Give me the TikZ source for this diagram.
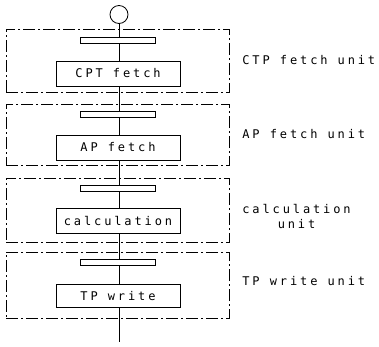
\documentclass[tikz,border=0pt]{standalone}
\usepackage{fontspec}
\newfontfamily\dotfont[LetterSpace=24]{DejaVu Sans Mono}
\begin{document}
\begin{tikzpicture}[x=1pt,y=-1pt,line width=0.8pt,
  font=\dotfont\fontsize{12}{14}\selectfont,
  unitbox/.style={draw,dash pattern=on 12pt off 3pt on 2pt off 3pt,
    minimum width=223pt,inner sep=0pt},
  regbar/.style={draw,minimum width=75pt,minimum height=6pt,inner sep=0pt},
  stagebox/.style={draw,minimum width=124pt,minimum height=25pt,inner sep=0pt},
  unitlabel/.style={anchor=west,inner sep=0pt}]
\useasboundingbox (0,0) rectangle (379,346);

% unit frames
\node[unitbox,minimum height=63pt] (u1) at (117.5,60.5) {};
\node[unitbox,minimum height=61pt] (u2) at (117.5,134.5) {};
\node[unitbox,minimum height=64pt] (u3) at (117.5,210) {};
\node[unitbox,minimum height=66pt] (u4) at (117.5,285) {};

% start symbol
\node[draw,circle,minimum size=18pt,inner sep=0pt] (start) at (119,14.5) {};

% register bars
\node[regbar] (r1) at (118,40) {};
\node[regbar] (r2) at (118,114) {};
\node[regbar] (r3) at (118,188) {};
\node[regbar] (r4) at (118,262) {};

% stage boxes
\node[stagebox] (s1) at (118,73.5) {CPT fetch};
\node[stagebox] (s2) at (118,147.5) {AP fetch};
\node[stagebox] (s3) at (118,221) {calculation};
\node[stagebox,minimum height=23pt] (s4) at (118,296) {TP write};

\coordinate (end) at (119,342);

% data path
\draw (start.south) -- (start.south |- r1.north);
\draw (start.south |- r1.south) -- (start.south |- s1.north);
\draw (start.south |- s1.south) -- (start.south |- r2.north);
\draw (start.south |- r2.south) -- (start.south |- s2.north);
\draw (start.south |- s2.south) -- (start.south |- r3.north);
\draw (start.south |- r3.south) -- (start.south |- s3.north);
\draw (start.south |- s3.south) -- (start.south |- r4.north);
\draw (start.south |- r4.south) -- (start.south |- s4.north);
\draw (start.south |- s4.south) -- (end);

% unit labels
\node[unitlabel] (l1) at (242,60.5) {CTP fetch unit};
\node[unitlabel] (l2) at (242,134.5) {AP fetch unit};
\node[unitlabel] (l3) at (242,209) {calculation};
\node[anchor=center,inner sep=0pt] (l3b) at (l3.center |- 0,224) {unit};
\node[unitlabel] (l4) at (242,281.5) {TP write unit};
\end{tikzpicture}
\end{document}
